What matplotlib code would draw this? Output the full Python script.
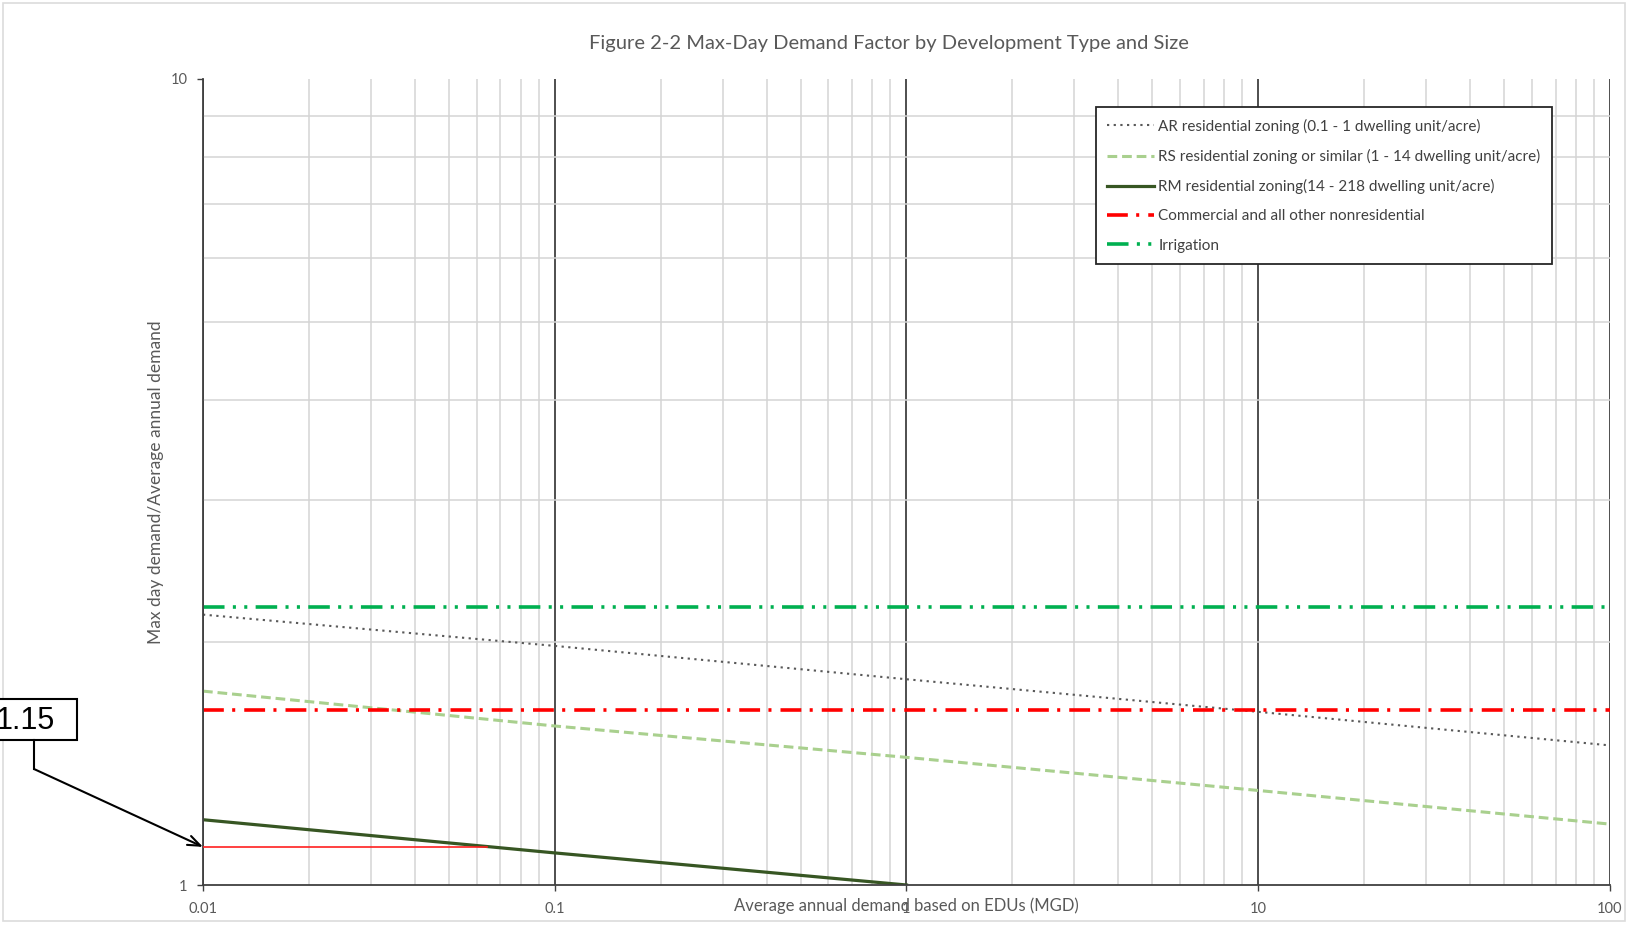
import numpy as np
import matplotlib
matplotlib.use('Agg')
import matplotlib.pyplot as plt
from matplotlib.patches import Rectangle
from matplotlib.lines import Line2D
from matplotlib.ticker import FixedLocator, NullFormatter

plt.rcParams['font.family'] = ['Lato', 'DejaVu Sans']
plt.rcParams['lines.scale_dashes'] = False

# demand (MGD) at each decade
x_dec = [0.01, 0.1, 1, 10, 100]
ar_factor = [2.165, 1.98, 1.80, 1.64, 1.49]
rs_factor = [1.74, 1.575, 1.44, 1.31, 1.19]
rm_x = [0.01, 0.1, 1]
rm_factor = [1.205, 1.096, 1.0]
commercial_factor = [1.647, 1.647]
irrigation_factor = [2.21, 2.21]
flat_x = [0.01, 100]
marker_x = [0.01, 0.064]
marker_level = 1.115
marker_text = '1.15'

labels = ['AR residential zoning (0.1 - 1 dwelling unit/acre)',
          'RS residential zoning or similar (1 - 14 dwelling unit/acre)',
          'RM residential zoning(14 - 218 dwelling unit/acre)',
          'Commercial and all other nonresidential',
          'Irrigation']

W, H = 1631, 930
fig = plt.figure(figsize=(W / 100, H / 100), dpi=100)
ax = fig.add_axes([203 / W, 1 - 885 / H, (1610 - 203) / W, (885 - 79) / H])

ax.set_xscale('log')
ax.set_yscale('log')
ax.set_xlim(0.01, 100)
ax.set_ylim(1, 10)

# grid
ax.xaxis.set_minor_locator(FixedLocator([m * d for d in [0.01, 0.1, 1, 10] for m in range(2, 10)]))
ax.yaxis.set_minor_locator(FixedLocator(list(range(2, 10))))
ax.xaxis.set_minor_formatter(NullFormatter())
ax.yaxis.set_minor_formatter(NullFormatter())
ax.grid(which='minor', axis='both', color='#d4d4d4', lw=1.1)
ax.grid(which='major', axis='x', color='#404040', lw=1.3)
ax.tick_params(which='minor', length=0)

ax.set_xticks(x_dec)
ax.set_xticklabels(['0.01', '0.1', '1', '10', '100'])
ax.set_yticks([1, 10])
ax.set_yticklabels(['1', '10'])
ax.tick_params(which='major', length=4, width=1, color='#404040',
               labelsize=10.5, labelcolor='#595959')
ax.tick_params(axis='x', pad=8)
ax.tick_params(axis='y', pad=7)

for s in ['top', 'right']:
    ax.spines[s].set_visible(False)
for s in ['left', 'bottom']:
    ax.spines[s].set_color('#404040')
    ax.spines[s].set_linewidth(1.3)

ax.plot(x_dec, ar_factor, color='#595959', lw=1.5, dashes=(1.6, 3.2), label=labels[0])
ax.plot(x_dec, rs_factor, color='#a9d08e', lw=2.2, dashes=(7, 3.5), label=labels[1])
ax.plot(rm_x, rm_factor, color='#375623', lw=2.3, label=labels[2])
ax.plot(flat_x, commercial_factor, color='#ff0000', lw=2.6,
        dashes=(15, 6, 2.2, 6.5), label=labels[3])
ax.plot(flat_x, irrigation_factor, color='#00b050', lw=2.6,
        dashes=(15.5, 6, 2.2, 6, 2.2, 6), label=labels[4])

ax.plot(marker_x, [marker_level, marker_level], color='#ff2020', lw=1.2, zorder=3)

fig.text(889 / W, 1 - 44 / H,
         'Figure 2-2 Max-Day Demand Factor by Development Type and Size',
         fontsize=14.5, color='#595959', ha='center', va='center')
ax.set_xlabel('Average annual demand based on EDUs (MGD)', fontsize=12, color='#595959')
ax.xaxis.set_label_coords(0.5, -0.026)
ax.xaxis.label.set_va('center')
ax.set_ylabel('Max day demand/Average annual demand', fontsize=12.5, color='#595959')
ax.yaxis.set_label_coords(-0.0334, 0.5)
ax.yaxis.label.set_va('center')

leg = ax.legend(loc='upper right', bbox_to_anchor=(1552 / W, 1 - 107 / H),
                bbox_transform=fig.transFigure, borderaxespad=0, fontsize=11,
                handlelength=3.1, handletextpad=0.25, labelspacing=1.0,
                fancybox=False, framealpha=1, edgecolor='#262626',
                borderpad=0.75)
leg.get_frame().set_linewidth(1.3)
for t in leg.get_texts():
    t.set_color('#404040')

# outer chart border
fig.patches.append(Rectangle((3 / W, 1 - 921 / H), (1625 - 3) / W, (921 - 3) / H,
                             transform=fig.transFigure, fill=False,
                             edgecolor='#dcdcdc', lw=1.2))

# callout box with arrow
fig.patches.append(Rectangle((-10 / W, 1 - 740 / H), 87 / W, 41 / H,
                             transform=fig.transFigure, fill=True, facecolor='white',
                             edgecolor='black', lw=1.5))
fig.text(25 / W, 1 - 721 / H, marker_text, fontsize=22, family='Liberation Sans',
         ha='center', va='center', color='black')
fig.lines.append(Line2D([34 / W, 34 / W], [1 - 740 / H, 1 - 769 / H],
                        transform=fig.transFigure, color='black', lw=1.5))
ax.annotate('', xy=(0.01, marker_level), xycoords='data',
            xytext=(34 / W, 1 - 769 / H), textcoords='figure fraction',
            arrowprops=dict(arrowstyle='->,head_length=0.9,head_width=0.35',
                            color='black', lw=1.5, shrinkA=0, shrinkB=0),
            annotation_clip=False)

fig.savefig('out.png', dpi=100)
